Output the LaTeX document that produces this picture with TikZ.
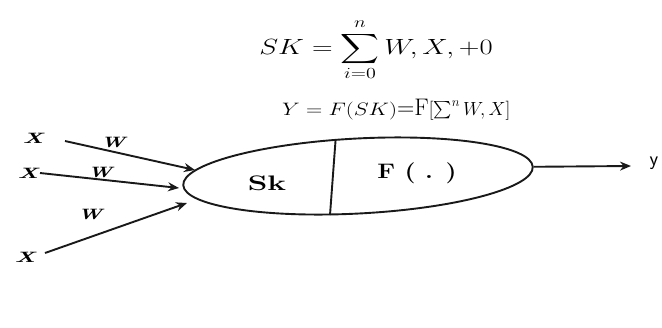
\RequirePackage{fix-cm}
\documentclass[tikz,border=0pt]{standalone}
\usepackage{graphicx}
\usepackage{amsmath}
\usepackage{fontspec}
\setmainfont{Latin Modern Roman}
\setsansfont{Latin Modern Sans}
\usetikzlibrary{shapes.geometric,arrows.meta}
\begin{document}
\begin{tikzpicture}[x=1pt,y=-1pt,
  line/.style={line width=1.9pt, draw=black!90},
  arr/.style={line, -{Stealth[length=11pt,width=9pt]}},
  lbl/.style={font=\fontsize{15}{17}\selectfont\bfseries\itshape, inner sep=0pt},
  bigl/.style={font=\fontsize{21}{23}\selectfont\bfseries, inner sep=0pt}]
\useasboundingbox (0,0) rectangle (662,327);
% equations
\node[inner sep=0pt, anchor=center] (eq1) at (376,50)
  {\scalebox{1.3}[1]{\fontsize{22}{26}\selectfont$\displaystyle SK=\sum_{i=0}^{n}W,X,+0$}};
\node[inner sep=0pt, anchor=base west] (eq2) at (282,115)
  {\scalebox{1.25}[1]{\fontsize{18}{20}\selectfont$Y=F(SK)$}\fontsize{24}{26}\selectfont=F\fontsize{19}{21}\selectfont$[\sum^{n}W,X]$};
% neuron
\node[ellipse, line, minimum width=350pt, minimum height=75pt, inner sep=0pt, rotate=3] (neuron) at (358,176) {};
\coordinate (dtop) at (335.5,141);
\coordinate (dbot) at (330,215);
\draw[line] (dtop) -- (dbot);
\node[bigl] (sk) at (267,183) {\scalebox{1.5}[1]{Sk}};
\node[bigl] (fdot) at (417,173) {\scalebox{1.2}[1]{F ( . )}};
% inputs
\node[lbl] (x1) at (33,138) {\scalebox{1.6}[1]{X}};
\node[lbl] (x2) at (28,173) {\scalebox{1.6}[1]{X}};
\node[lbl] (x3) at (25,257) {\scalebox{1.6}[1]{X}};
\node[lbl] (w1) at (113,142) {\scalebox{1.4}[1]{W}};
\node[lbl] (w2) at (100,172) {\scalebox{1.4}[1]{W}};
\node[lbl] (w3) at (90,214) {\scalebox{1.4}[1]{W}};
\coordinate (s1) at (65,141);
\coordinate (s2) at (40,173);
\coordinate (s3) at (45,253);
\coordinate (t1) at (195,170);
\coordinate (t2) at (179,188);
\coordinate (t3) at (187,203);
\draw[arr] (s1) -- (t1);
\draw[arr] (s2) -- (t2);
\draw[arr] (s3) -- (t3);
% output
\node[inner sep=0pt, font=\sffamily\fontsize{20}{22}\selectfont] (y) at (654,163) {y};
\coordinate (yt) at (631,166);
\draw[arr] (neuron.east) -- (yt);
\end{tikzpicture}
\end{document}
